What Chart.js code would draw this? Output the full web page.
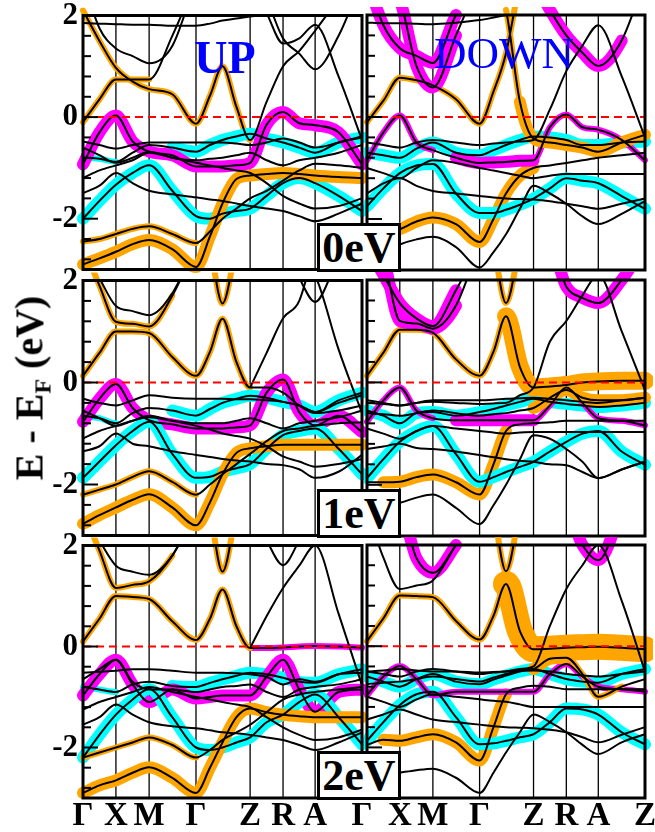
<!DOCTYPE html>
<html>
<head>
<meta charset="utf-8">
<title>Band structure</title>
<script src="https://cdn.jsdelivr.net/npm/chart.js@4.4.0/dist/chart.umd.min.js"></script>
<style>
  html, body { margin: 0; padding: 0; background: #fff; }
  body { position: relative; width: 655px; height: 832px; overflow: hidden; font-family: "Liberation Serif", "Times New Roman", serif; }
  canvas { position: absolute; z-index: 1; }
  .spin { position: absolute; z-index: 2; color: #0000ff; line-height: 1; white-space: nowrap; transform: translateX(-50%); }
  .ubox { position: absolute; z-index: 2; box-sizing: border-box; border: 3px solid #000; background: #fff; font-weight: bold; font-size: 44px; text-align: center; }
  #ytitle { position: absolute; z-index: 2; left: 29px; top: 388px; font-weight: bold; font-size: 40px; white-space: nowrap; transform: translate(-50%, -50%) rotate(-90deg); }
  #ytitle sub { font-size: 24px; vertical-align: -8px; line-height: 0; }
</style>
</head>
<body>
<div id="ytitle">E - E<sub>F</sub> (eV)</div>
<script>
// k-path sample points and high-symmetry labels
const kPoints = [0, 0.059, 0.118, 0.178, 0.237, 0.32, 0.405, 0.455, 0.5, 0.55, 0.599, 0.658, 0.717, 0.775, 0.832, 0.916, 1];
const kTicks = [0, 0.118, 0.237, 0.405, 0.599, 0.717, 0.832, 1];
const kLabelsLeft = ['Γ', 'X', 'M', 'Γ', 'Z', 'R', 'A', 'Γ'];
const kLabelsRight = ['', 'X', 'M', 'Γ', 'Z', 'R', 'A', 'Z'];
const yLabelTicks = [-2, 0, 2];
const yMinorTicks = [2, 1.6, 1.2, 0.8, 0.4, 0, -0.4, -0.8, -1.2, -1.6, -2, -2.4, -2.8];
const fermiLevel = 0;
const spinLabels = ['UP', 'DOWN'];
const uLabels = ['0eV', '1eV', '2eV'];

// bands: energy (eV) at each kPoint; null = not drawn
const up0Bands = [
  [-2.90,-2.78,-2.65,-2.50,-2.42,-2.60,-2.95,-2.35,-1.70,-1.22,-1.15,-1.12,-1.10,-1.12,-1.15,-1.18,-1.20],
  [-2.45,-2.40,-2.30,-2.20,-2.15,-2.30,-2.48,-2.25,-2.00,-1.80,-1.60,-1.45,-1.25,-1.05,-0.92,-0.95,-1.00],
  [-2.00,-1.65,-1.33,-1.10,-0.95,-1.45,-1.95,-2.00,-1.90,-1.85,-1.80,-1.55,-1.30,-1.20,-1.30,-1.55,-1.85],
  [-1.50,-1.35,-1.10,-1.30,-1.45,-1.52,-1.58,-1.62,-1.65,-1.70,-1.75,-1.80,-1.85,-1.95,-2.05,-1.90,-1.70],
  [-1.20,-1.05,-0.95,-0.85,-0.70,-0.80,-0.90,-0.95,-1.00,-1.05,-1.10,-1.30,-1.55,-1.70,-1.80,-1.75,-1.60],
  [-0.93,-0.30, 0.03,-0.48,-0.68,-0.75,-0.97,-0.97,-0.97,-0.95,-0.90,-0.15, 0.10,-0.12,-0.16,-0.30,-0.93],
  [-0.48,-0.55,-0.62,-0.55,-0.50,-0.50,-0.50,-0.50,-0.50,-0.52,-0.55,-0.50,-0.42,-0.50,-0.60,-0.50,-0.38],
  [-0.80,-0.82,-0.88,-0.70,-0.55,-0.60,-0.68,-0.55,-0.45,-0.38,-0.33,-0.42,-0.50,-0.60,-0.70,-0.50,-0.40],
  [-0.60,-0.75,-0.90,-0.80,-0.68,-0.80,-0.85,-0.82,-0.80,-0.75,-0.70,-0.85,-0.95,-0.85,-0.80,-0.70,-0.55],
  [-0.10, 0.35, 0.74, 0.74, 0.74, 1.60, 2.70, null, null, null, null, null, null, null, null, null, null],
  [ 2.10, 1.50, 0.97, 0.70, 0.55, 0.45,-0.13, 0.42, 1.00, 0.20,-0.45, 0.30, 1.00, 1.30, 1.70, 2.30, 2.70],
  [ 2.70, 1.75, 1.35, 1.20, 1.06, 1.40, 2.70, null, null, null, null, null, null, null, null, null, null],
  [ 1.85, 1.84, 1.83, 1.82, 1.82, 1.80, 1.80, 1.84, 1.90, 1.94, 1.98, 2.02, 2.05, 2.05, 2.05, 2.05, 2.05],
  [ null, null, null, null, null, null, null, null, null, null, 2.70, 2.05, 1.45, 1.55, 1.82, 0.80,-0.45],
  [ null, null, null, null, null, null, null, null, null, null, 2.70, 2.30, 1.55, 1.25, 0.94, 1.60, 2.70]
];
// fat bands: [band, orbital, fromIndex, toIndex, weight]
const up0Fat = [[0,'o',0,16,2],[1,'o',0,6,1],[2,'c',0,16,2],[5,'m',0,16,2],[7,'c',5,16,2],[7,'c',0,2,1],[9,'o',0,4,1],[10,'o',0,10,1]];

const dn0Bands = [
  [ 2.70, 1.80, 1.35, 1.20, 1.06, 2.00, 2.70, null, null, null, null, null, null, null, null, null, null],
  [ 2.70, 2.70, 2.30, 1.00, 0.58, 1.60, 2.70, null, null, null, null, null, null, null, null, null, null],
  [-0.10, 0.32, 0.77, 0.72, 0.62, 0.35,-0.13, 0.50, 1.25, 2.70, null, null, null, null, null, null, null],
  [ 1.85, 1.84, 1.84, 1.83, 1.82, 1.85, 1.90, 1.95, 2.00, 2.05, 2.10, 2.70, null, null, null, null, null],
  [ null, null, null, null, null, null, null, 2.70, 2.10, 0.30,-0.42,-0.50,-0.55,-0.60,-0.68,-0.50,-0.35],
  [ null, null, null, null, null, null, null, null, null, null, 2.70, 2.10, 1.60, 1.26, 1.00, 1.50, 2.70],
  [-0.50,-0.55,-0.60,-0.50,-0.45,-0.50,-0.55,-0.52,-0.50,-0.48,-0.45, 0.15, 0.90, 1.40, 1.80, 0.80,-0.40],
  [-0.85,-0.30, 0.03,-0.50,-0.65,-0.80,-0.90,-0.89,-0.88,-0.86,-0.85,-0.20, 0.05,-0.20,-0.25,-0.45,-0.85],
  [-0.70,-0.75,-0.80,-0.62,-0.50,-0.70,-0.75,-0.65,-0.55,-0.45,-0.38,-0.40,-0.45,-0.55,-0.55,-0.50,-0.48],
  [-1.75,-1.40,-1.10,-0.95,-0.92,-1.50,-1.88,-1.88,-1.82,-1.72,-1.60,-1.40,-1.20,-1.25,-1.30,-1.55,-1.80],
  [-2.40,-2.30,-2.20,-2.05,-1.97,-2.10,-2.45,-2.00,-1.50,-1.15,-1.00,-0.95,-0.90,-0.85,-0.80,-0.75,-0.70],
  [-2.80,-2.65,-2.50,-2.40,-2.35,-2.55,-2.95,-2.65,-2.30,-1.80,-1.35,-1.50,-1.70,-1.95,-2.10,-1.90,-1.65],
  [-1.00,-1.10,-1.20,-1.00,-0.85,-0.90,-1.00,-1.05,-1.10,-1.15,-1.20,-1.15,-1.12,-1.12,-1.12,-1.12,-1.12],
  [-1.50,-1.30,-1.20,-1.35,-1.45,-1.50,-1.55,-1.58,-1.60,-1.61,-1.62,-1.65,-1.70,-1.75,-1.80,-1.70,-1.60]
];
const dn0Fat = [[0,'m',0,5,2],[1,'m',2,5,2],[2,'o',0,9,1],[4,'o',8,9,1],[4,'o',9,16,2],[5,'m',10,15,2],[7,'m',0,4,1],[7,'m',5,10,2],[7,'m',10,16,1],[8,'c',0,16,2],[9,'c',0,16,2],[10,'o',0,10,2]];

const up1Bands = [
  [-2.77,-2.60,-2.45,-2.30,-2.19,-2.45,-2.80,-2.35,-1.80,-1.38,-1.29,-1.25,-1.22,-1.22,-1.22,-1.22,-1.22],
  [-2.20,-2.10,-2.00,-1.85,-1.74,-1.95,-2.20,-2.00,-1.80,-1.60,-1.40,-1.15,-0.95,-0.90,-0.85,-0.80,-0.78],
  [-1.87,-1.55,-1.23,-0.95,-0.77,-1.40,-1.87,-1.85,-1.75,-1.68,-1.60,-1.30,-1.03,-0.95,-0.90,-1.30,-1.80],
  [-1.35,-1.25,-1.00,-1.20,-1.25,-1.35,-1.42,-1.46,-1.50,-1.53,-1.55,-1.60,-1.62,-1.70,-1.87,-1.75,-1.42],
  [-1.10,-0.95,-0.85,-0.75,-0.65,-0.75,-0.85,-0.92,-1.00,-1.05,-1.10,-1.25,-1.45,-1.55,-1.65,-1.60,-1.50],
  [-0.77,-0.32,-0.03,-0.50,-0.74,-0.82,-0.90,-0.90,-0.90,-0.88,-0.84,-0.20, 0.06,-0.58,-0.84,-0.65,-0.97],
  [-0.32,-0.40,-0.45,-0.35,-0.25,-0.30,-0.32,-0.32,-0.32,-0.33,-0.33,-0.35,-0.38,-0.45,-0.58,-0.40,-0.25],
  [-0.65,-0.70,-0.80,-0.60,-0.50,-0.55,-0.65,-0.52,-0.40,-0.32,-0.26,-0.30,-0.38,-0.45,-0.58,-0.35,-0.20],
  [-0.55,-0.70,-0.85,-0.75,-0.68,-0.75,-0.80,-0.80,-0.80,-0.75,-0.70,-0.80,-0.90,-0.80,-0.75,-0.68,-0.55],
  [ 0.13, 0.58, 1.00, 1.00, 0.97, 0.50, 0.13, 0.60, 1.25, 0.40,-0.10,-0.10,-0.20,-0.45,-0.60,-0.55,-0.45],
  [ 2.70, 1.90, 1.19, 1.15, 1.10, 1.70, 2.70, null, null, null, null, null, null, null, null, null, null],
  [ 2.70, 2.05, 1.50, 1.40, 1.32, 1.75, 2.70, null, null, null, null, null, null, null, null, null, null],
  [ null, null, null, null, null, null, null, 2.70, 1.55, 2.70, null, null, null, null, null, null, null],
  [ null, null, null, null, null, null, null, null, null, null,-0.10, 0.58, 1.26, 1.60, 2.70, null, null],
  [ null, null, null, null, null, null, null, null, null, null, null, null, 2.70, 2.05, 1.58, 2.40, 2.70],
  [ null, null, null, null, null, null, null, null, null, null, null, null, 2.70, 2.40, 2.10, 0.65,-0.60]
];
const up1Fat = [[0,'o',0,16,2],[1,'o',0,6,1],[2,'c',0,16,2],[5,'m',0,16,2],[7,'c',5,16,2],[7,'c',0,2,1],[9,'o',0,10,1],[10,'o',0,5,1],[12,'o',7,9,1]];

const dn1Bands = [
  [ 2.70, 2.10, 1.55, 1.25, 1.10, 1.80, 2.70, null, null, null, null, null, null, null, null, null, null],
  [ 2.70, 2.40, 1.20, 1.15, 1.05, 1.50, 2.70, null, null, null, null, null, null, null, null, null, null],
  [ 0.13, 0.58, 1.03, 1.03, 0.97, 0.45, 0.13, 0.60, 1.29, 0.30,-0.10,-0.08,-0.05, 0.00, 0.02, 0.03, 0.03],
  [ null, null, null, null, null, null, null, 2.70, 1.55, 2.70, null, null, null, null, null, null, null],
  [-0.60,-0.62,-0.65,-0.60,-0.55,-0.60,-0.65,-0.62,-0.60,-0.55,-0.50,-0.30,-0.15,-0.30,-0.35,-0.35,-0.30],
  [ null, null, null, null, null, null, null, null, null, null, 2.70, 2.70, 1.87, 1.65, 1.55, 2.00, 2.70],
  [-0.40,-0.42,-0.45,-0.40,-0.38,-0.40,-0.42,-0.41,-0.40,-0.25,-0.10, 0.80, 1.20, 1.70, 2.10, 1.00,-0.15],
  [-0.77,-0.35,-0.10,-0.55,-0.70,-0.74,-0.74,-0.74,-0.74,-0.74,-0.74,-0.45,-0.10,-0.40,-0.70,-0.75,-0.84],
  [-0.55,-0.65,-0.80,-0.60,-0.58,-0.65,-0.58,-0.52,-0.45,-0.38,-0.32,-0.38,-0.42,-0.45,-0.48,-0.45,-0.40],
  [-1.87,-1.50,-1.16,-0.95,-0.85,-1.40,-1.94,-1.85,-1.75,-1.65,-1.55,-1.35,-1.16,-1.00,-0.95,-1.35,-1.61],
  [-1.95,-1.95,-1.94,-1.85,-1.80,-1.95,-2.19,-1.60,-0.95,-0.82,-0.80,-0.78,-0.75,-0.75,-0.75,-0.75,-0.75],
  [-2.30,-2.40,-2.35,-2.25,-2.19,-2.45,-2.77,-2.40,-2.00,-1.50,-1.03,-1.10,-1.30,-1.55,-1.87,-1.70,-1.55],
  [-0.90,-1.00,-1.10,-0.95,-0.85,-0.90,-0.95,-0.98,-1.00,-0.98,-0.97,-0.97,-0.97,-0.97,-0.97,-0.97,-0.97],
  [-1.30,-1.25,-1.20,-1.28,-1.30,-1.35,-1.42,-1.46,-1.50,-1.53,-1.55,-1.60,-1.62,-1.75,-1.87,-1.70,-1.55],
  [-0.35,-0.40,-0.45,-0.40,-0.35,-0.35,-0.35,-0.34,-0.32,-0.31,-0.30,-0.32,-0.35,-0.38,-0.40,-0.35,-0.30]
];
const dn1Fat = [[0,'m',0,5,2],[1,'m',1,5,2],[2,'o',0,8,1],[2,'o',8,16,3],[3,'o',7,9,1],[4,'o',10,16,2],[5,'m',10,16,2],[7,'m',0,4,1],[7,'m',5,10,2],[7,'m',10,16,1],[8,'c',0,16,2],[9,'c',0,16,2],[10,'o',1,8,2]];

const up2Bands = [
  [-2.90,-2.75,-2.65,-2.50,-2.39,-2.60,-2.90,-2.40,-1.90,-1.40,-1.23,-1.30,-1.35,-1.38,-1.40,-1.40,-1.40],
  [-2.20,-2.10,-2.00,-1.90,-1.80,-1.95,-2.20,-2.05,-1.85,-1.70,-1.55,-1.30,-1.05,-0.95,-0.90,-0.85,-0.80],
  [-2.20,-1.75,-1.35,-1.05,-0.84,-1.40,-2.00,-2.05,-2.00,-1.90,-1.80,-1.50,-1.35,-1.10,-0.95,-1.40,-1.94],
  [-1.55,-1.40,-1.15,-1.35,-1.50,-1.58,-1.62,-1.66,-1.70,-1.72,-1.75,-1.80,-1.85,-1.95,-2.05,-1.90,-1.70],
  [-1.25,-1.10,-1.00,-0.90,-0.80,-0.90,-1.00,-1.05,-1.10,-1.15,-1.20,-1.40,-1.60,-1.75,-1.85,-1.80,-1.65],
  [-0.97,-0.55,-0.26,-0.75,-1.10,-0.85,-1.03,-1.00,-0.97,-0.97,-0.97,-0.60,-0.26,-0.85,-1.29,-0.90,-0.85],
  [-0.52,-0.50,-0.48,-0.45,-0.45,-0.48,-0.52,-0.52,-0.52,-0.53,-0.55,-0.60,-0.75,-0.65,-0.70,-0.55,-0.52],
  [-0.80,-0.85,-0.90,-0.75,-0.70,-0.78,-0.80,-0.72,-0.65,-0.58,-0.52,-0.55,-0.62,-0.70,-0.72,-0.55,-0.45],
  [-0.65,-0.45,-0.26,-0.70,-0.85,-0.85,-0.90,-0.85,-0.80,-0.78,-0.75,-0.90,-1.00,-0.85,-0.80,-0.75,-0.65],
  [ 0.10, 0.55, 1.00, 0.98, 0.94, 0.50, 0.13, 0.55, 1.13, 0.40,-0.03,-0.03,-0.02, 0.00, 0.01, 0.00,-0.02],
  [ 2.70, 1.90, 1.16, 1.22, 1.29, 1.80, 2.70, null, null, null, null, null, null, null, null, null, null],
  [ 2.70, 2.10, 1.60, 1.48, 1.42, 1.80, 2.70, null, null, null, null, null, null, null, null, null, null],
  [ null, null, null, null, null, null, null, 2.70, 1.48, 2.70, null, null, null, null, null, null, null],
  [ null, null, null, null, null, null, null, null, null, null,-0.03, 0.60, 1.16, 1.60, 2.00, 0.65,-0.77],
  [ null, null, null, null, null, null, null, null, null, null, 2.70, 2.10, 1.61, 2.10, 2.70, null, null]
];
const up2Fat = [[0,'o',0,16,2],[1,'o',0,6,1],[2,'c',0,16,2],[5,'m',0,16,2],[7,'c',5,16,2],[7,'c',0,2,1],[9,'o',0,10,1],[9,'m',10,16,1],[10,'o',0,5,1],[12,'o',7,9,1]];

const dn2Bands = [
  [ 2.70, 2.70, 2.70, 1.74, 1.45, 2.00, 2.70, null, null, null, null, null, null, null, null, null, null],
  [ 2.70, 1.75, 1.13, 1.20, 1.30, 2.00, 2.70, null, null, null, null, null, null, null, null, null, null],
  [ 0.10, 0.55, 1.00, 0.99, 0.97, 0.50, 0.13, 0.60, 1.23, 0.30,-0.06,-0.05,-0.03,-0.02,-0.01,-0.03,-0.06],
  [ null, null, null, null, null, null, null, 2.70, 1.48, 2.70, null, null, null, null, null, null, null],
  [-0.75,-0.72,-0.70,-0.65,-0.60,-0.65,-0.70,-0.62,-0.55,-0.48,-0.45,-0.25,-0.23,-0.55,-1.00,-0.80,-0.65],
  [ null, null, null, null, null, null, null, null, null, null, 2.70, 2.70, 2.70, 2.00, 1.70, 2.70, null],
  [-0.50,-0.55,-0.60,-0.50,-0.45,-0.50,-0.55,-0.52,-0.50,-0.45,-0.40, 0.40, 1.13, 1.60, 2.00, 0.90,-0.50],
  [-0.97,-0.60,-0.39,-0.65,-0.97,-0.90,-0.90,-0.90,-0.90,-0.90,-0.90,-0.55,-0.35,-0.60,-0.80,-0.85,-0.90],
  [-0.60,-0.70,-0.80,-0.65,-0.55,-0.70,-0.75,-0.66,-0.58,-0.50,-0.45,-0.55,-0.65,-0.70,-0.72,-0.55,-0.45],
  [-1.87,-1.50,-1.16,-0.95,-0.90,-1.40,-1.94,-1.92,-1.87,-1.80,-1.74,-1.50,-1.23,-1.25,-1.35,-1.70,-1.94],
  [-1.95,-1.85,-1.87,-1.80,-1.74,-1.90,-2.26,-1.60,-0.95,-0.82,-0.78,-0.80,-0.85,-0.85,-0.85,-0.85,-0.85],
  [-2.70,-2.55,-2.50,-2.45,-2.42,-2.60,-2.90,-2.50,-2.10,-1.70,-1.35,-1.50,-1.70,-1.95,-2.13,-1.90,-1.74],
  [-1.00,-1.10,-1.20,-1.05,-0.95,-1.00,-1.05,-1.08,-1.10,-1.15,-1.20,-1.20,-1.20,-1.20,-1.20,-1.20,-1.20],
  [-1.45,-1.35,-1.25,-1.35,-1.45,-1.50,-1.55,-1.58,-1.60,-1.61,-1.62,-1.65,-1.70,-1.80,-1.90,-1.75,-1.60],
  [-0.50,-0.48,-0.45,-0.48,-0.50,-0.50,-0.52,-0.51,-0.50,-0.49,-0.48,-0.50,-0.55,-0.58,-0.60,-0.55,-0.50]
];
const dn2Fat = [[0,'m',1,5,2],[2,'o',0,8,1],[2,'o',8,16,4],[3,'o',7,9,1],[4,'o',10,12,2],[4,'o',12,15,1],[5,'m',11,15,2],[7,'m',0,16,1],[8,'c',0,16,2],[9,'c',0,16,2],[10,'o',1,8,2]];

const panels = [
  { bands: up0Bands, fat: up0Fat, row: 0, col: 0 },
  { bands: dn0Bands, fat: dn0Fat, row: 0, col: 1 },
  { bands: up1Bands, fat: up1Fat, row: 1, col: 0 },
  { bands: dn1Bands, fat: dn1Fat, row: 1, col: 1 },
  { bands: up2Bands, fat: up2Fat, row: 2, col: 0 },
  { bands: dn2Bands, fat: dn2Fat, row: 2, col: 1 }
];

// layout (page pixels)
const rowTop = [15, 280, 545];
const rowBottom = [270, 536, 798];
const colLeft = [83, 367];
const colRight = [362, 645];
const canvasLeft = [0, 364];
const canvasRight = [377, 665];
const pageHeight = 832;

const orbitalColor = { o: '#ffa500', c: '#00ffff', m: '#ff00ff' };
const fatWidth = [0, 6, 12, 18, 26];
const serif = "'Liberation Serif', 'Times New Roman', serif";

Chart.defaults.animation = false;

function toPoints(values) {
  return values.map((v, i) => ({ x: kPoints[i], y: v }));
}

function buildDatasets(p) {
  const sets = [];
  p.fat.forEach(([b, orb, from, to, w]) => {
    const color = orbitalColor[orb];
    sets.push({
      data: toPoints(p.bands[b]),
      borderColor: color,
      borderWidth: fatWidth[w],
      borderCapStyle: 'round',
      borderJoinStyle: 'round',
      segment: {
        borderColor: ctx => (ctx.p0DataIndex >= from && ctx.p1DataIndex <= to) ? color : 'rgba(0,0,0,0)'
      },
      cubicInterpolationMode: 'monotone',
      capBezierPoints: false,
      pointRadius: 0,
      order: 3,
      clip: 8
    });
  });
  p.bands.forEach(b => {
    sets.push({
      data: toPoints(b),
      borderColor: '#000',
      borderWidth: 2,
      cubicInterpolationMode: 'monotone',
      capBezierPoints: false,
      pointRadius: 0,
      order: 2,
      clip: 1
    });
  });
  sets.push({
    data: [{ x: 0, y: fermiLevel }, { x: 1, y: fermiLevel }],
    borderColor: '#ff0000',
    borderWidth: 2,
    borderDash: [8, 5],
    pointRadius: 0,
    order: 1
  });
  return sets;
}

const framePlugin = {
  id: 'frame',
  beforeDatasetsDraw(chart) {
    const { ctx, chartArea: a } = chart;
    const x = chart.scales.x;
    ctx.save();
    ctx.strokeStyle = '#000';
    ctx.lineWidth = 1.3;
    kTicks.forEach(v => {
      const px = x.getPixelForValue(v);
      ctx.beginPath();
      ctx.moveTo(px, a.top);
      ctx.lineTo(px, a.bottom);
      ctx.stroke();
    });
    ctx.restore();
  },
  afterDatasetsDraw(chart) {
    const { ctx, chartArea: a } = chart;
    const y = chart.scales.y;
    ctx.save();
    ctx.strokeStyle = '#000';
    ctx.lineWidth = 2;
    yMinorTicks.forEach(v => {
      const py = y.getPixelForValue(v);
      const len = yLabelTicks.includes(v) ? 15 : 8;
      ctx.beginPath();
      ctx.moveTo(a.left, py);
      ctx.lineTo(a.left + len, py);
      ctx.stroke();
    });
    ctx.lineWidth = 3;
    ctx.strokeRect(a.left, a.top, a.right - a.left, a.bottom - a.top);
    ctx.restore();
  }
};

panels.forEach(p => {
  const isBottom = p.row === 2;
  const isLeft = p.col === 0;
  const cTop = rowTop[p.row] - 20;
  const cBottom = isBottom ? pageHeight : rowBottom[p.row] + 20;
  const canvas = document.createElement('canvas');
  canvas.width = canvasRight[p.col] - canvasLeft[p.col];
  canvas.height = cBottom - cTop;
  canvas.style.left = canvasLeft[p.col] + 'px';
  canvas.style.top = cTop + 'px';
  document.body.appendChild(canvas);

  const labels = isLeft ? kLabelsLeft : kLabelsRight;
  new Chart(canvas.getContext('2d'), {
    type: 'line',
    data: { datasets: buildDatasets(p) },
    options: {
      responsive: false,
      animation: false,
      events: [],
      layout: {
        padding: {
          left: isLeft ? 0 : colLeft[p.col] - canvasLeft[p.col],
          right: canvasRight[p.col] - colRight[p.col],
          top: 20,
          bottom: isBottom ? 0 : 20
        }
      },
      plugins: { legend: { display: false }, tooltip: { enabled: false } },
      scales: {
        x: {
          type: 'linear',
          min: 0,
          max: 1,
          display: isBottom,
          afterBuildTicks: s => { s.ticks = kTicks.map(v => ({ value: v })); },
          afterFit: s => { s.height = isBottom ? pageHeight - rowBottom[2] : 0; },
          grid: { display: false, drawTicks: false },
          border: { display: false },
          ticks: {
            autoSkip: false,
            maxRotation: 0,
            padding: 2,
            color: '#000',
            font: { family: serif, weight: 'bold', size: 33, lineHeight: 1 },
            callback: (v, i) => labels[i]
          }
        },
        y: {
          type: 'linear',
          min: -3,
          max: 2,
          display: isLeft,
          afterBuildTicks: s => { s.ticks = yLabelTicks.map(v => ({ value: v })); },
          afterFit: s => { s.width = isLeft ? colLeft[0] : 0; },
          grid: { display: false, drawTicks: false },
          border: { display: false },
          ticks: {
            padding: 5,
            color: '#000',
            font: { family: serif, weight: 'bold', size: 31, lineHeight: 1 },
            callback: v => String(v)
          }
        }
      }
    },
    plugins: [framePlugin]
  });
});

// spin labels over the top row
spinLabels.forEach((txt, c) => {
  const d = document.createElement('div');
  d.className = 'spin';
  d.textContent = txt;
  d.style.fontSize = c === 0 ? '46px' : '45px';
  d.style.fontWeight = c === 0 ? 'bold' : 'normal';
  d.style.left = (c === 0 ? 225 : 504) + 'px';
  d.style.top = (c === 0 ? 35 : 31) + 'px';
  document.body.appendChild(d);
});

// U value boxes straddling the two columns
uLabels.forEach((txt, r) => {
  const d = document.createElement('div');
  d.className = 'ubox';
  d.textContent = txt;
  d.style.left = '317px';
  d.style.width = '84px';
  d.style.top = (rowBottom[r] - 47) + 'px';
  d.style.height = '49px';
  d.style.lineHeight = '43px';
  document.body.appendChild(d);
});
</script>
</body>
</html>
